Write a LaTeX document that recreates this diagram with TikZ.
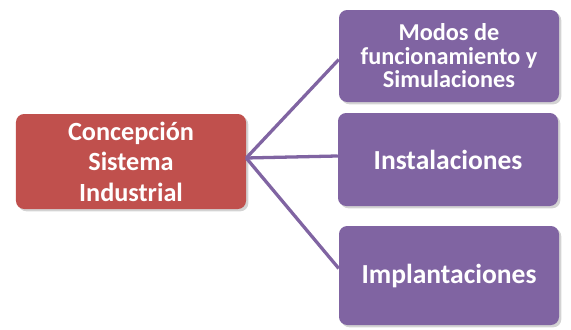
\documentclass[tikz,border=0pt]{standalone}
\usepackage{fontspec}
\setmainfont{Carlito}
\usetikzlibrary{shadows}

\definecolor{boxred}{RGB}{192,80,77}
\definecolor{boxpurple}{RGB}{128,100,162}

\tikzset{
  box/.style={rounded corners=7pt, draw=none, text=white, align=center,
    font=\bfseries\fontsize{23.5}{26}\selectfont, inner sep=0pt,
    drop shadow={opacity=0.35, shadow xshift=2pt, shadow yshift=-2pt}},
  redbox/.style={box, fill=boxred, minimum width=6.9cm, minimum height=2.85cm,
    font=\bfseries\fontsize{22.4}{26}\selectfont},
  purplebox/.style={box, fill=boxpurple, minimum width=6.6cm},
  link/.style={draw=boxpurple, line width=2.8pt}
}

\begin{document}
\begin{tikzpicture}[x=0.03cm,y=-0.03cm]
        \useasboundingbox (0,0) rectangle (571,329);%
        \node[redbox] (concep) at (131,161.5) {Concepción\\Sistema\\Industrial};%
        \node[purplebox, minimum height=2.76cm,
          font=\bfseries\fontsize{20.7}{20}\selectfont] (modos) at (449,56)
          {Modos de\\funcionamiento y\\Simulaciones};%
        \node[purplebox, minimum height=2.79cm] (instal) at (448,159.5) {Instalaciones};%
        \node[purplebox, minimum height=2.97cm] (implant) at (449,275.5) {Implantaciones};%
        \coordinate (hub) at ([yshift=3pt]concep.east);%
        \draw[link] (hub) -- ([yshift=-3pt]modos.west);%
        \draw[link] (hub) -- ([yshift=3pt]instal.west);%
        \draw[link] (hub) -- ([yshift=6pt]implant.west);%
      \end{tikzpicture}
\end{document}
